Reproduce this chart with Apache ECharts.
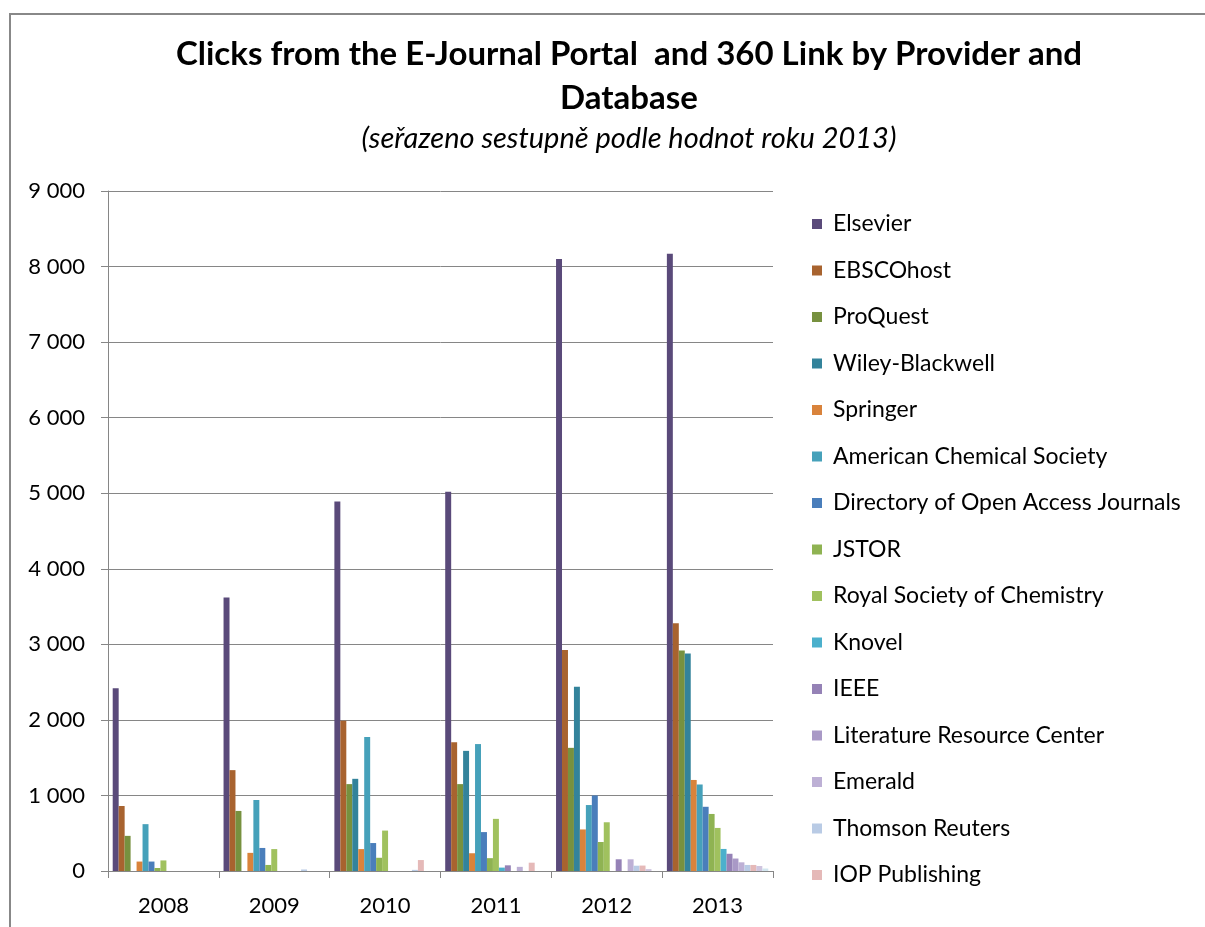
<!DOCTYPE html>
<html>
<head>
<meta charset="utf-8">
<title>Clicks by Provider and Database</title>
<script src="https://cdn.jsdelivr.net/npm/echarts@6/dist/echarts.min.js"></script>
<style>
  html, body { margin: 0; padding: 0; background: #fff; }
  #chart { width: 1205px; height: 927px; }
</style>
</head>
<body>
<div id="chart"></div>
<script>
const years = ['2008', '2009', '2010', '2011', '2012', '2013'];

// poskytovatelé, seřazeno podle roku 2013
const providers = [
  'Elsevier', 'EBSCOhost', 'ProQuest', 'Wiley-Blackwell', 'Springer',
  'American Chemical Society', 'Directory of Open Access Journals', 'JSTOR',
  'Royal Society of Chemistry', 'Knovel', 'IEEE', 'Literature Resource Center',
  'Emerald', 'Thomson Reuters', 'IOP Publishing', 'Provider 16', 'Provider 17'
];

const elsevier = [2420, 3620, 4890, 5020, 8100, 8170];
const ebscohost = [860, 1335, 1990, 1705, 2925, 3280];
const proquest = [465, 795, 1150, 1150, 1630, 2920];
const wiley = [0, 0, 1220, 1590, 2440, 2880];
const springer = [125, 240, 290, 235, 550, 1205];
const acs = [620, 940, 1775, 1680, 873, 1145];
const doaj = [125, 305, 370, 515, 1000, 850];
const jstor = [40, 80, 175, 170, 384, 755];
const rsc = [140, 290, 535, 690, 645, 570];
const knovel = [0, 0, 0, 45, 0, 292];
const ieee = [0, 0, 0, 75, 155, 228];
const literature = [0, 0, 0, 0, 0, 165];
const emerald = [0, 0, 0, 55, 155, 115];
const thomson = [0, 20, 15, 0, 70, 80];
const iop = [0, 0, 145, 110, 72, 80];
const provider16 = [0, 0, 0, 0, 25, 66];
const provider17 = [0, 0, 0, 0, 0, 33];

const values = [elsevier, ebscohost, proquest, wiley, springer, acs, doaj, jstor,
  rsc, knovel, ieee, literature, emerald, thomson, iop, provider16, provider17];

const colors = ['#5A4A7A', '#A8632F', '#77913F', '#33839B', '#D9833B', '#46A1BA',
  '#4A7EBB', '#8FB352', '#A0C15E', '#4BB0CC', '#9582B6', '#A999C6', '#BDB0D5',
  '#B9CBE5', '#E5B9B8', '#CFC5DF', '#D2E6EF'];

const yTicks = [0, 1000, 2000, 3000, 4000, 5000, 6000, 7000, 8000, 9000];

const font = 'Lato, "Noto Sans", sans-serif';

const chart = echarts.init(document.getElementById('chart'));

const series = providers.map((name, i) => ({
  name: name,
  type: 'bar',
  data: values[i],
  barGap: '0%',
  barCategoryGap: '8.5%',
  itemStyle: { color: colors[i] },
  emphasis: { disabled: true }
}));

chart.setOption({
  animation: false,
  textStyle: { fontFamily: font },
  graphic: [
    {
      type: 'rect',
      shape: { x: 10, y: 14, width: 1400, height: 1100 },
      style: { fill: 'none', stroke: '#888', lineWidth: 2 },
      silent: true
    },
    {
      type: 'text',
      x: 629, y: 54,
      style: {
        text: 'Clicks from the E-Journal Portal  and 360 Link by Provider and',
        font: 'bold 33px ' + font, fill: '#000',
        textAlign: 'center', textVerticalAlign: 'middle'
      }
    },
    {
      type: 'text',
      x: 629, y: 98,
      style: {
        text: 'Database',
        font: 'bold 33px ' + font, fill: '#000',
        textAlign: 'center', textVerticalAlign: 'middle'
      }
    },
    {
      type: 'text',
      x: 629, y: 139,
      style: {
        text: '(seřazeno sestupně podle hodnot roku 2013)',
        font: 'italic 29px ' + font, fill: '#000',
        textAlign: 'center', textVerticalAlign: 'middle'
      }
    }
  ],
  legend: {
    data: providers.slice(0, 15),
    orient: 'vertical',
    left: 807,
    top: 207,
    icon: 'rect',
    itemWidth: 10,
    itemHeight: 10,
    itemGap: 22.5,
    selectedMode: false,
    textStyle: { fontFamily: font, fontSize: 23, color: '#000', lineHeight: 24, padding: [0, 0, 0, 6] }
  },
  grid: { left: 108, right: 432, top: 191, bottom: 56, containLabel: false },
  xAxis: {
    type: 'category',
    data: years,
    axisLine: { lineStyle: { color: '#868686', width: 1 } },
    axisTick: { show: true, length: 7, lineStyle: { color: '#868686' } },
    axisLabel: { fontFamily: font, fontSize: 22, color: '#000', margin: 24 }
  },
  yAxis: {
    type: 'value',
    min: 0,
    max: 9000,
    interval: 1000,
    axisLine: { show: true, lineStyle: { color: '#868686', width: 1 } },
    axisTick: { show: true, length: 7, lineStyle: { color: '#868686' } },
    splitLine: { lineStyle: { color: '#868686', width: 1 } },
    axisLabel: {
      fontFamily: font, fontSize: 22, color: '#000', margin: 23,
      formatter: v => yTicks.includes(v) ? String(v).replace(/\B(?=(\d{3})+(?!\d))/g, ' ') : ''
    }
  },
  series: series
});
</script>
</body>
</html>
